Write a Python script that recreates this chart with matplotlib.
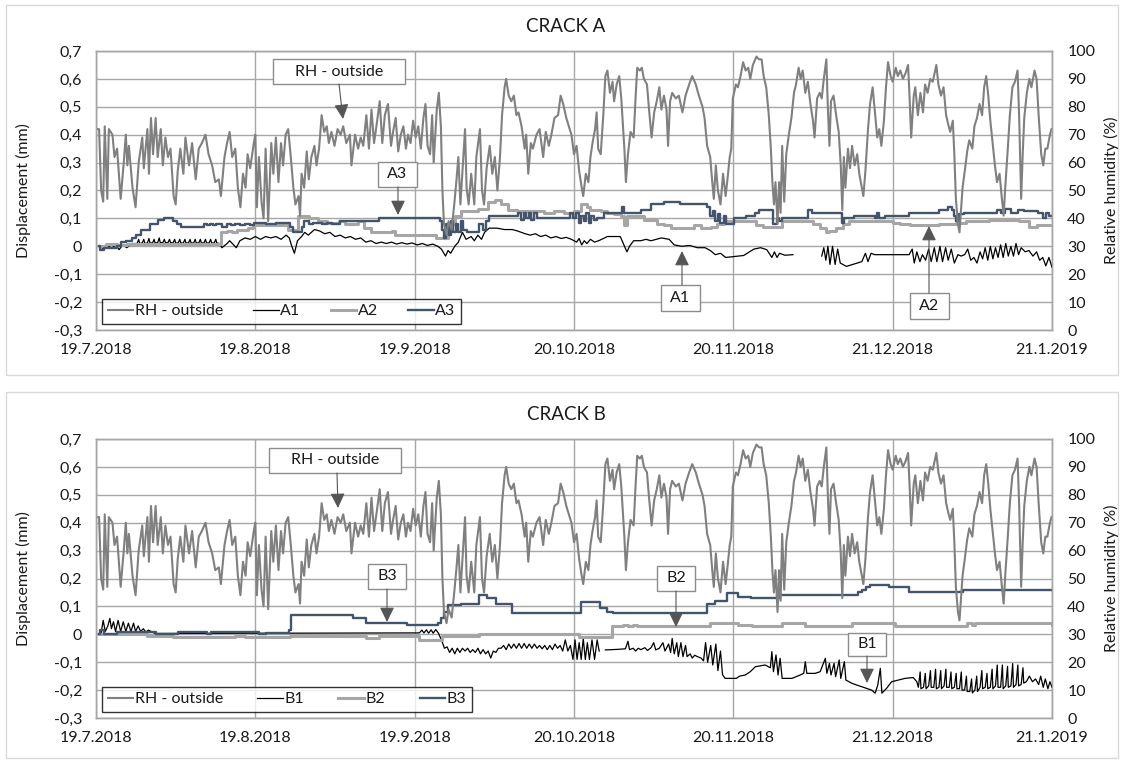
import numpy as np
import matplotlib
matplotlib.use('Agg')
import matplotlib.pyplot as plt
import matplotlib.dates as mdates
from matplotlib.patches import Rectangle, FancyArrowPatch
from matplotlib.lines import Line2D
import datetime as dt

plt.rcParams['font.family'] = ['Lato', 'DejaVu Sans']

# ---------------- data ----------------
START = dt.datetime(2018, 7, 19)
tick_dates = ['2018-07-19', '2018-08-19', '2018-09-19', '2018-10-20',
              '2018-11-20', '2018-12-21', '2019-01-21']
tick_labels = ['19.7.2018', '19.8.2018', '19.9.2018', '20.10.2018',
               '20.11.2018', '21.12.2018', '21.1.2019']
disp_ticks = [-0.3, -0.2, -0.1, 0.0, 0.1, 0.2, 0.3, 0.4, 0.5, 0.6, 0.7]
disp_labels = ['-0,3', '-0,2', '-0,1', '0', '0,1', '0,2', '0,3', '0,4', '0,5', '0,6', '0,7']
rh_ticks = [0, 10, 20, 30, 40, 50, 60, 70, 80, 90, 100]

# (day since 19.7.2018, RH %)
rh_outside = [
    (0.3, 72), (0.6, 72), (1.0, 50), (1.4, 46), (1.7, 73), (2.2, 47), (2.5, 72), (3.2, 70), (3.6, 62), (4.1, 65),
    (4.8, 47), (5.4, 60), (5.8, 70), (6.1, 59), (6.4, 66), (7.1, 51), (7.7, 44), (8.3, 60), (9.0, 69), (9.3, 58),
    (10.0, 72), (10.3, 56), (10.7, 76), (11.1, 63), (11.6, 76), (12.0, 62), (12.6, 72), (13.0, 59), (13.5, 69),
    (14.0, 62), (14.5, 65), (15.1, 48), (15.5, 45), (15.9, 57), (16.4, 65), (17.0, 56), (17.4, 69), (18.1, 59),
    (18.7, 67), (19.4, 54), (20.0, 65), (20.6, 67), (21.3, 70), (21.9, 63), (22.6, 59), (23.2, 53), (23.9, 54),
    (24.3, 48), (25.0, 62), (25.5, 67), (26.0, 71), (26.5, 62), (27.1, 65), (27.6, 51), (28.1, 44), (28.6, 56),
    (29.1, 51), (29.5, 63), (30.0, 58), (30.7, 67),
    (31.0, 70), (31.3, 44), (31.7, 62), (32.2, 46), (32.6, 40), (33.0, 65), (33.5, 39), (34.1, 67), (34.5, 56),
    (35.0, 69), (35.5, 53), (36.0, 67), (36.4, 59), (36.9, 70), (37.4, 72), (37.9, 62), (38.4, 51), (38.8, 45),
    (39.4, 48), (39.7, 41), (40.0, 56), (40.5, 51), (41.0, 64), (41.4, 54), (41.9, 62), (42.5, 66), (42.9, 59),
    (43.4, 65), (43.9, 77), (44.4, 71), (44.9, 73), (45.3, 67), (45.8, 71), (46.4, 66), (47.0, 72), (47.6, 70),
    (48.1, 73), (48.7, 67), (49.4, 70), (49.7, 59), (50.4, 70), (51.0, 65), (51.5, 69), (52.0, 66), (52.6, 77),
    (53.1, 65), (53.6, 79), (54.1, 67), (54.7, 75), (55.2, 82), (55.7, 67), (56.2, 77), (56.8, 81), (57.4, 66),
    (57.8, 71), (58.3, 76), (58.8, 64), (59.3, 70), (59.8, 73), (60.3, 65), (60.7, 70), (61.2, 67), (61.7, 75),
    (62.2, 69), (62.7, 73), (63.2, 65), (63.7, 76), (64.1, 81), (64.5, 66), (65.0, 63), (65.4, 77), (65.7, 60),
    (66.3, 79), (66.7, 85), (67.1, 73), (67.4, 50), (67.7, 38), (68.2, 34), (68.6, 39), (69.2, 36), (69.7, 45),
    (70.1, 53), (70.5, 62), (70.9, 45), (71.2, 54), (71.8, 72), (72.1, 51), (72.5, 45), (73.0, 56), (73.6, 45),
    (74.0, 62), (74.7, 72), (75.1, 50), (75.5, 45), (76.0, 58), (76.6, 66), (77.1, 56), (77.6, 62), (78.1, 50),
    (78.6, 62), (79.0, 77), (79.5, 87), (79.8, 90), (80.3, 84), (80.8, 82), (81.3, 84), (81.8, 77), (82.2, 78),
    (82.8, 73), (83.4, 65), (83.7, 70), (84.1, 56), (84.6, 67), (85.0, 65), (85.7, 70), (86.3, 72), (87.0, 62),
    (87.5, 71), (88.1, 66), (88.6, 70), (89.2, 76), (89.9, 77), (90.4, 84), (90.9, 81), (91.5, 76), (92.0, 73),
    (92.5, 70), (93.0, 63),
    (93.5, 66), (94.0, 57), (94.5, 51), (94.8, 48), (95.3, 56), (95.8, 53), (96.2, 62), (96.6, 67), (97.1, 72),
    (97.4, 78), (97.7, 65), (98.2, 63), (98.7, 77), (99.1, 91), (99.5, 93), (100.0, 85), (100.5, 89), (100.8, 82),
    (101.3, 88), (101.8, 91), (102.2, 83), (102.8, 65), (103.1, 53), (103.5, 63), (104.0, 71), (104.6, 69),
    (105.0, 84), (105.3, 94), (105.8, 93), (106.2, 94), (106.6, 90), (107.2, 88), (107.6, 79), (108.1, 69),
    (108.6, 78), (109.1, 82), (109.6, 87), (110.0, 79), (110.5, 84), (111.0, 79), (111.3, 66), (111.7, 82),
    (112.1, 85), (112.8, 83), (113.4, 84), (114.1, 78), (114.7, 84), (115.4, 88), (116.0, 91), (116.7, 88),
    (117.3, 84), (118.0, 80), (118.4, 76), (118.9, 66), (119.5, 62), (119.9, 53), (120.2, 47), (120.6, 59),
    (121.0, 50), (121.5, 45), (122.0, 56), (122.5, 48), (122.8, 53), (123.3, 62), (123.6, 65), (123.9, 83),
    (124.5, 88), (124.9, 87), (125.4, 91), (125.9, 96), (126.4, 93), (126.9, 94), (127.3, 90), (127.8, 95),
    (128.5, 98), (129.0, 97), (129.5, 97), (129.9, 91), (130.4, 87), (130.9, 77), (131.3, 65), (131.6, 53),
    (131.9, 45), (132.2, 53), (132.6, 38), (132.9, 53), (133.2, 42), (133.5, 66), (133.9, 46), (134.3, 63),
    (134.8, 70), (135.3, 76), (135.8, 85), (136.2, 88), (136.7, 94), (137.1, 90), (137.5, 93), (138.0, 85),
    (138.5, 89), (139.0, 81), (139.5, 75), (139.8, 69), (140.3, 83), (140.8, 85), (141.2, 83), (141.6, 90),
    (142.1, 97), (142.4, 79), (142.7, 66), (143.0, 82), (143.5, 84), (144.0, 77), (144.5, 71), (144.9, 59),
    (145.2, 43), (145.5, 62), (145.8, 51), (146.3, 65), (146.7, 58), (147.1, 66), (147.6, 59), (148.1, 63),
    (148.5, 56), (149.0, 51), (149.3, 48), (149.7, 57), (150.2, 72), (150.6, 81), (151.1, 87), (151.6, 77),
    (152.0, 69), (152.4, 72), (152.8, 66), (153.3, 75), (153.7, 87), (154.1, 96), (154.6, 91), (155.0, 89),
    (155.6, 94), (156.0, 91), (156.5, 93), (157.0, 90), (157.5, 92), (158.0, 95), (158.3, 83), (158.6, 69),
    (159.1, 84), (159.4, 87), (159.9, 77), (160.4, 85), (160.9, 78), (161.3, 88), (161.8, 85), (162.3, 90),
    (162.8, 89), (163.5, 95), (163.9, 88), (164.4, 84), (164.9, 87), (165.4, 77), (165.9, 73), (166.2, 71),
    (166.7, 75), (167.0, 63), (167.3, 47), (167.7, 38), (168.0, 35), (168.3, 43), (168.6, 51), (169.1, 58),
    (169.5, 64), (169.9, 68), (170.5, 65), (170.9, 73), (171.4, 76), (171.9, 81), (172.4, 77), (172.8, 87),
    (173.2, 91), (173.6, 84), (174.0, 75), (174.5, 66), (174.9, 59), (175.3, 53), (175.8, 56), (176.2, 48),
    (176.6, 41), (176.9, 51), (177.4, 65), (177.8, 77), (178.3, 87), (178.8, 89), (179.3, 93), (179.6, 77),
    (180.0, 47), (180.3, 63), (180.6, 76), (181.1, 85), (181.6, 90), (182.0, 87), (182.6, 93), (183.0, 90),
    (183.4, 77), (183.9, 63), (184.3, 59), (184.7, 65), (185.1, 65), (185.6, 70), (185.9, 72),
]

# crack A displacement (mm); A2, A3 are step series (value holds until next point)
a1 = [
    (0.8, 0.0), (1.5, -0.01), (2.2, 0.005), (3.0, -0.008), (3.8, 0.005), (4.5, -0.012), (5.2, 0.005), (6.0, -0.005),
    (7.0, 0.01), (8.0, 0.01), (8.3, 0.025), (8.5, 0.01), (9.0, 0.012), (9.3, 0.025), (9.5, 0.01), (10.0, 0.012),
    (10.3, 0.028), (10.5, 0.012), (11.0, 0.012), (11.3, 0.025), (11.5, 0.012), (12.0, 0.013), (12.3, 0.03),
    (12.5, 0.013), (13.0, 0.013), (13.3, 0.025), (13.5, 0.013), (14.0, 0.013), (14.3, 0.025), (14.5, 0.013),
    (15.0, 0.012), (15.3, 0.025), (15.5, 0.012), (16.0, 0.012), (16.3, 0.025), (16.5, 0.012), (17.0, 0.012),
    (17.3, 0.025), (17.5, 0.012), (18.0, 0.012), (18.3, 0.025), (18.5, 0.012), (19.0, 0.012), (19.3, 0.025),
    (19.5, 0.012), (20.0, 0.012), (20.3, 0.025), (20.5, 0.012), (21.0, 0.012), (21.3, 0.025), (21.5, 0.012),
    (22.0, 0.012), (22.3, 0.025), (22.5, 0.012), (23.0, 0.012), (23.3, 0.025), (23.5, 0.012), (24.0, 0.01),
    (24.5, -0.005), (25.5, 0.01), (26.0, 0.02), (27.3, -0.005), (28.0, 0.02), (29.0, 0.03), (30.0, 0.025),
    (31.0, 0.035), (32.0, 0.025), (33.0, 0.035), (34.0, 0.03), (35.0, 0.035), (36.0, 0.025), (37.0, 0.04),
    (37.6, 0.03), (38.0, 0.005), (38.6, -0.025), (39.2, 0.02), (40.0, 0.035), (40.6, 0.05), (41.3, 0.04),
    (42.5, 0.06), (43.5, 0.055), (44.5, 0.045), (45.5, 0.05), (46.5, 0.035), (47.5, 0.04), (48.5, 0.03),
    (49.5, 0.035), (50.5, 0.025), (51.5, 0.03), (52.5, 0.015), (53.5, 0.02), (54.5, 0.01), (55.5, 0.015),
    (56.5, 0.01), (57.5, 0.015), (58.5, 0.008), (59.5, 0.013), (60.5, 0.008), (61.5, 0.012), (62.5, 0.005),
    (63.5, 0.01), (64.5, 0.003), (65.5, 0.008), (66.5, 0.0), (67.2, -0.01), (68.0, -0.035), (68.5, -0.015),
    (69.0, -0.025), (69.8, 0.0), (70.5, 0.015), (71.3, 0.05), (72.0, 0.025), (73.0, 0.035), (73.6, 0.02),
    (74.3, 0.04), (75.0, 0.025), (75.6, 0.05), (76.5, 0.065), (78.0, 0.065), (79.5, 0.06), (81.0, 0.06),
    (82.0, 0.055), (83.5, 0.045), (84.5, 0.04), (85.5, 0.045), (86.5, 0.035), (87.5, 0.04), (88.5, 0.03),
    (89.5, 0.035), (90.5, 0.028), (91.5, 0.032), (92.5, 0.025), (93.5, 0.015), (94.0, 0.028), (94.5, 0.005),
    (95.0, 0.02), (95.5, 0.01), (96.2, 0.025), (97.0, 0.015), (97.8, 0.02), (99.5, 0.035), (102.0, 0.035),
    (102.6, 0.01), (103.3, -0.02), (103.8, 0.0), (104.6, 0.02), (106.0, 0.02), (107.0, 0.025), (108.0, 0.02),
    (110.0, 0.03), (111.5, 0.025), (112.5, 0.005), (114.0, 0.0), (115.5, 0.003), (117.0, -0.005), (118.5, -0.005),
    (119.5, -0.015), (120.5, -0.03), (121.5, -0.025), (122.5, -0.04), (124.0, -0.037), (126.0, -0.033),
    (128.0, -0.01), (129.3, -0.005), (130.5, -0.012), (131.5, -0.04), (132.0, -0.02), (132.5, -0.04),
    (133.0, -0.025), (134.0, -0.032), (135.6, -0.03), (136.0, np.nan),
    (141.2, -0.035), (141.6, -0.005), (142.0, -0.05), (142.4, 0.0), (142.8, -0.065), (143.3, 0.0), (143.8, -0.065),
    (144.3, -0.01), (144.8, -0.06), (146.0, -0.072), (149.0, -0.055), (149.7, -0.025), (150.2, -0.055),
    (150.8, -0.025), (151.5, -0.03), (155.0, -0.03), (158.2, -0.03), (158.8, -0.01), (159.2, -0.06), (159.7, -0.02),
    (160.3, -0.055), (160.8, -0.03), (161.4, -0.05), (162.0, -0.01), (162.5, -0.055), (163.1, -0.005),
    (163.6, -0.055), (164.2, 0.0), (164.7, -0.055), (165.3, -0.005), (165.8, -0.05), (166.4, -0.01), (167.0, -0.06),
    (167.7, -0.03), (168.3, -0.035), (169.0, -0.03), (169.6, -0.01), (170.2, -0.05), (170.8, -0.04), (171.4, -0.06),
    (172.0, -0.02), (172.5, -0.045), (173.0, -0.005), (173.5, -0.05), (174.0, 0.0), (174.5, -0.045), (175.0, -0.005),
    (175.5, -0.04), (176.0, 0.005), (176.5, -0.04), (177.0, 0.01), (177.5, -0.035), (178.0, 0.0), (178.5, -0.035),
    (179.0, 0.01), (179.5, -0.03), (180.0, -0.005), (180.8, -0.02), (181.5, -0.015), (182.3, -0.035), (183.0, -0.02),
    (183.6, -0.05), (184.2, -0.04), (184.8, -0.07), (185.4, -0.04), (186.0, -0.075),
]

a2 = [
    (0.7, 0.0), (2.0, 0.01), (4.0, 0.005), (6.0, 0.01), (8.0, 0.008), (10.0, 0.01), (24.0, 0.01), (24.4, 0.05),
    (25.5, 0.055), (26.5, 0.05), (27.5, 0.06), (29.5, 0.065), (30.5, 0.075), (37.4, 0.06), (39.3, 0.11),
    (41.5, 0.10), (43.2, 0.09), (45.0, 0.085), (47.2, 0.09), (48.5, 0.08), (51.0, 0.09), (52.2, 0.065),
    (53.5, 0.05), (57.5, 0.055), (58.2, 0.04), (66.2, 0.03), (68.5, 0.08), (69.8, 0.11), (71.0, 0.125),
    (74.3, 0.135), (76.3, 0.16), (77.6, 0.165), (78.8, 0.15), (80.2, 0.13), (82.0, 0.125), (87.2, 0.12),
    (89.2, 0.125), (91.0, 0.12), (93.0, 0.125), (94.3, 0.15), (95.5, 0.14), (96.2, 0.13), (98.2, 0.125),
    (99.5, 0.12), (100.8, 0.115), (102.2, 0.11), (102.8, 0.075), (103.3, 0.11), (106.6, 0.095), (109.2, 0.08),
    (110.5, 0.077), (111.8, 0.065), (116.3, 0.075), (117.7, 0.065), (119.6, 0.07), (120.8, 0.08), (122.2, 0.09),
    (128.5, 0.078), (129.8, 0.07), (133.5, 0.09), (139.5, 0.08), (140.8, 0.065), (142.0, 0.05), (142.7, 0.055),
    (144.0, 0.065), (145.3, 0.08), (146.6, 0.09), (155.0, 0.085), (156.5, 0.08), (158.3, 0.075), (164.0, 0.08),
    (167.3, 0.085), (169.3, 0.09), (173.8, 0.095), (179.6, 0.09), (181.5, 0.07), (183.0, 0.075), (186.0, 0.075),
]

a3 = [
    (0.6, 0.0), (0.8, -0.015), (1.6, -0.005), (4.0, 0.0), (4.8, 0.015), (5.8, 0.02), (7.0, 0.03), (7.8, 0.04),
    (8.8, 0.06), (10.5, 0.08), (12.0, 0.095), (13.2, 0.10), (15.0, 0.09), (15.8, 0.08), (16.5, 0.07), (21.0, 0.08),
    (21.6, 0.075), (22.2, 0.08), (22.8, 0.075), (23.4, 0.08), (24.5, 0.07), (25.4, 0.08), (26.3, 0.075),
    (27.0, 0.08), (28.0, 0.075), (29.0, 0.08), (30.0, 0.075), (30.8, 0.085), (33.0, 0.08), (35.0, 0.085),
    (37.8, 0.07), (38.3, 0.05), (40.0, 0.07), (40.4, 0.09), (41.5, 0.08), (42.2, 0.085), (44.0, 0.08),
    (45.0, 0.085), (46.0, 0.08), (47.5, 0.09), (55.0, 0.10), (66.9, 0.09), (67.3, 0.06), (67.7, 0.03),
    (68.1, 0.08), (68.6, 0.04), (69.0, 0.09), (69.5, 0.05), (70.0, 0.08), (70.5, 0.05), (71.0, 0.09), (71.5, 0.06),
    (72.2, 0.05), (74.6, 0.08), (75.2, 0.06), (75.8, 0.09), (76.4, 0.11), (82.2, 0.12), (82.7, 0.095),
    (83.2, 0.12), (83.7, 0.10), (84.2, 0.12), (84.7, 0.095), (85.2, 0.12), (85.8, 0.10), (92.3, 0.12),
    (92.8, 0.10), (93.4, 0.12), (93.9, 0.085), (94.4, 0.11), (94.9, 0.09), (95.4, 0.12), (95.9, 0.085),
    (96.4, 0.11), (96.9, 0.095), (97.4, 0.10), (98.8, 0.12), (102.4, 0.14), (102.8, 0.12), (106.0, 0.13),
    (108.0, 0.15), (110.5, 0.16), (113.6, 0.15), (118.8, 0.14), (119.5, 0.11), (120.0, 0.125), (120.5, 0.09),
    (121.0, 0.115), (121.5, 0.085), (122.1, 0.11), (122.6, 0.08), (124.2, 0.10), (126.5, 0.11), (128.3, 0.12),
    (129.0, 0.13), (131.8, 0.08), (132.4, 0.10), (132.9, 0.09), (133.4, 0.10), (138.5, 0.13), (139.3, 0.12),
    (145.1, 0.085), (145.6, 0.10), (147.5, 0.11), (151.5, 0.10), (152.0, 0.12), (152.4, 0.10), (153.5, 0.11),
    (158.2, 0.12), (164.0, 0.13), (165.8, 0.14), (166.5, 0.13), (167.0, 0.11), (167.4, 0.09), (167.9, 0.115),
    (168.8, 0.12), (175.3, 0.13), (176.0, 0.12), (176.8, 0.135), (178.0, 0.12), (179.3, 0.13), (180.5, 0.125),
    (183.3, 0.12), (184.2, 0.10), (184.8, 0.12), (185.5, 0.11), (186.0, 0.11),
]

# crack B displacement (mm)
b1 = [
    (0.5, 0.0), (1.0, 0.005), (1.4, 0.05), (1.8, 0.01), (2.3, 0.03), (2.7, 0.057), (3.0, 0.02), (3.4, 0.045),
    (3.8, 0.01), (4.3, 0.05), (4.8, 0.01), (5.3, 0.045), (5.8, 0.01), (6.3, 0.04), (6.8, 0.01), (7.3, 0.04),
    (7.7, 0.01), (8.2, 0.03), (8.7, 0.01), (9.2, 0.02), (9.7, 0.008), (10.2, 0.015), (11.5, 0.003), (62.9, 0.005),
    (63.4, 0.015), (63.8, 0.005), (64.3, 0.016), (64.7, 0.004), (65.2, 0.016), (65.6, 0.004), (66.1, 0.017),
    (66.6, 0.005), (67.2, -0.02), (67.8, -0.05), (68.3, -0.045), (68.8, -0.065), (69.3, -0.05), (69.8, -0.07),
    (70.3, -0.05), (70.8, -0.065), (71.3, -0.05), (71.8, -0.06), (72.3, -0.05), (72.8, -0.065), (73.3, -0.055),
    (73.8, -0.065), (74.3, -0.05), (74.8, -0.07), (75.3, -0.055), (75.8, -0.07), (76.3, -0.06), (76.8, -0.085),
    (77.3, -0.06), (77.8, -0.065), (78.3, -0.05), (78.8, -0.05), (79.3, -0.04), (79.8, -0.055), (80.3, -0.035),
    (80.8, -0.05), (81.3, -0.035), (81.8, -0.05), (82.3, -0.033), (82.8, -0.05), (83.3, -0.033), (83.8, -0.05),
    (84.3, -0.035), (84.8, -0.05), (85.3, -0.035), (85.8, -0.05), (86.3, -0.04), (86.8, -0.052), (87.3, -0.04),
    (87.8, -0.055), (88.3, -0.04), (88.8, -0.055), (89.3, -0.035), (89.8, -0.05), (90.3, -0.04), (90.8, -0.06),
    (91.3, -0.02), (91.8, -0.06), (92.3, -0.04), (92.8, -0.09), (93.2, -0.02), (93.6, -0.09), (94.0, -0.03),
    (94.4, -0.09), (94.8, -0.015), (95.2, -0.09), (95.6, -0.03), (96.0, -0.09), (96.5, -0.02), (97.0, -0.09),
    (97.5, -0.02), (97.9, -0.06), (98.5, np.nan), (99.1, -0.056), (101.5, -0.054), (103.0, -0.052),
    (103.5, -0.025), (103.8, -0.055), (104.5, -0.05), (105.0, -0.06), (105.5, -0.05), (106.0, -0.055),
    (106.8, -0.048), (107.3, -0.058), (108.0, -0.048), (108.5, -0.03), (108.9, -0.056), (109.6, -0.05),
    (110.3, -0.03), (110.7, -0.06), (111.4, -0.035), (111.8, -0.065), (112.1, -0.015), (112.5, -0.07),
    (113.0, -0.03), (113.3, -0.08), (113.8, -0.03), (114.2, -0.08), (114.7, -0.04), (115.0, -0.08),
    (115.6, -0.07), (116.0, -0.085), (116.5, -0.075), (117.0, -0.08), (117.7, -0.085), (118.2, -0.095),
    (118.6, -0.03), (119.0, -0.10), (119.6, -0.04), (120.0, -0.11), (120.6, -0.035), (121.0, -0.13),
    (121.5, -0.06), (121.9, -0.145), (122.4, -0.158), (124.6, -0.158), (125.2, -0.15), (126.3, -0.146),
    (127.3, -0.134), (128.3, -0.116), (130.2, -0.11), (131.2, -0.12), (131.5, -0.062), (131.8, -0.134),
    (132.3, -0.074), (132.7, -0.146), (133.1, -0.086), (133.5, -0.158), (135.4, -0.158), (137.0, -0.146),
    (137.7, -0.14), (138.0, -0.098), (138.3, -0.14), (139.9, -0.14), (140.9, -0.134), (141.9, -0.086),
    (142.2, -0.14), (142.7, -0.104), (143.0, -0.146), (143.6, -0.104), (143.9, -0.152), (144.6, -0.092),
    (144.9, -0.158), (145.6, -0.098), (145.9, -0.164), (147.1, -0.176), (149.0, -0.188), (150.9, -0.20),
    (151.6, -0.211), (152.1, -0.182), (152.6, -0.122), (152.9, -0.211), (153.8, -0.194), (154.8, -0.17),
    (156.1, -0.164), (157.4, -0.158), (159.0, -0.155), (159.7, -0.17),
    (160.0, -0.19), (160.35, -0.135), (160.5, -0.195), (161.0, -0.19), (161.35, -0.14), (161.5, -0.195),
    (162.0, -0.185), (162.35, -0.13), (162.5, -0.19), (163.0, -0.19), (163.35, -0.125), (163.5, -0.195),
    (164.0, -0.19), (164.35, -0.13), (164.5, -0.195), (165.0, -0.185), (165.35, -0.125), (165.5, -0.19),
    (166.0, -0.19), (166.35, -0.135), (166.5, -0.195), (167.0, -0.19), (167.35, -0.14), (167.5, -0.195),
    (168.0, -0.195), (168.35, -0.135), (168.5, -0.20), (169.0, -0.20), (169.35, -0.15), (169.5, -0.205),
    (170.0, -0.205), (170.35, -0.16), (170.5, -0.21), (171.0, -0.20), (171.35, -0.15), (171.5, -0.205),
    (172.0, -0.19), (172.35, -0.13), (172.5, -0.195), (173.0, -0.19), (173.35, -0.14), (173.5, -0.195),
    (174.0, -0.19), (174.35, -0.125), (174.5, -0.195), (175.0, -0.185), (175.35, -0.11), (175.5, -0.19),
    (176.0, -0.19), (176.35, -0.11), (176.5, -0.195), (177.0, -0.185), (177.35, -0.115), (177.5, -0.19),
    (178.0, -0.185), (178.35, -0.105), (178.5, -0.19), (179.0, -0.18), (179.35, -0.11), (179.5, -0.185),
    (180.0, -0.18), (180.35, -0.12), (180.5, -0.175), (181.0, -0.17), (181.6, -0.15), (182.2, -0.17),
    (182.8, -0.16), (183.4, -0.18), (183.8, -0.15), (184.3, -0.19), (184.7, -0.16), (185.2, -0.195),
    (185.6, -0.17), (186.0, -0.19),
]

b2 = [
    (0.5, 0.0), (10.0, -0.005), (15.0, -0.01), (27.0, -0.005), (29.0, -0.01), (37.7, -0.005), (52.5, -0.012),
    (55.0, -0.005), (62.8, -0.02), (67.4, -0.005), (74.5, 0.0), (94.0, -0.01), (100.3, 0.03), (102.5, 0.035),
    (103.5, 0.03), (104.5, 0.035), (105.2, 0.03), (119.5, 0.04), (125.0, 0.035), (127.6, 0.03), (133.5, 0.04),
    (137.9, 0.03), (147.0, 0.04), (155.5, 0.03), (169.5, 0.04), (170.5, 0.035), (171.0, 0.04), (186.0, 0.035),
]

b3 = [
    (0.5, 0.0), (0.8, 0.015), (1.5, 0.0), (4.0, 0.007), (11.6, 0.0), (16.0, 0.01), (21.5, 0.0), (22.4, 0.01),
    (31.8, 0.0), (33.0, 0.005), (37.5, 0.015), (37.9, 0.07), (50.0, 0.06), (52.5, 0.04), (60.5, 0.035),
    (66.5, 0.04), (67.2, 0.06), (67.8, 0.08), (68.4, 0.105), (71.0, 0.11), (74.5, 0.14), (76.0, 0.13),
    (77.8, 0.11), (81.0, 0.078), (94.3, 0.117), (98.0, 0.093), (99.5, 0.08), (100.5, 0.075), (103.5, 0.078),
    (118.9, 0.11), (120.5, 0.12), (122.8, 0.147), (125.0, 0.135), (127.5, 0.13), (133.0, 0.14), (148.3, 0.15),
    (149.0, 0.16), (149.8, 0.17), (150.6, 0.177), (154.2, 0.17), (158.1, 0.15), (168.7, 0.16), (186.0, 0.16),
]

# ---------------- styles ----------------
C_RH = '#808080'
C_1 = '#000000'
C_2 = '#a6a6a6'
C_3 = '#44546a'
C_GRID = '#a6a6a6'
C_TXT = '#1a1a1a'
FS = 11.5
W, H = 1122, 762
t0 = mdates.date2num(START)


def unzip(pts):
    d = np.array([p[0] for p in pts], dtype=float)
    v = np.array([p[1] for p in pts], dtype=float)
    return t0 + d, v


fig = plt.figure(figsize=(W / 100, H / 100), dpi=100)


def fx(px):
    return px / W


def fy(py):
    return 1 - py / H


def panel(top_px, title, s1, s2, s3, names, notes, leg_right):
    left_px, right_px, bot_px = 96, 1052, top_px + 279
    ax = fig.add_axes([fx(left_px), fy(bot_px), (right_px - left_px) / W, 279 / H])
    ax2 = ax.twinx()
    ax.set_zorder(1)
    ax2.set_zorder(2)
    ax2.patch.set_visible(False)

    x1, y1 = unzip(s1)
    x2, y2 = unzip(s2)
    x3, y3 = unzip(s3)
    ax.plot(x1, y1, color=C_1, lw=0.9, zorder=3)
    ax.plot(x2, y2, color=C_2, lw=2.2, drawstyle='steps-post', zorder=4)
    ax.plot(x3, y3, color=C_3, lw=1.7, drawstyle='steps-post', zorder=5)
    xr, yr = unzip(rh_outside)
    ax2.plot(xr, yr, color=C_RH, lw=1.5, zorder=2)

    ax.set_ylim(-0.3, 0.7)
    ax2.set_ylim(0, 100)
    ax.set_xlim(t0, t0 + 186)
    ax.set_yticks(disp_ticks)
    ax.set_yticklabels(disp_labels)
    ax2.set_yticks(rh_ticks)
    ax2.set_yticklabels([str(v) for v in rh_ticks])
    ticks = [mdates.date2num(dt.datetime.strptime(s, '%Y-%m-%d')) for s in tick_dates]
    ax.set_xticks(ticks)
    ax.set_xticklabels(tick_labels)
    ax.grid(True, color=C_GRID, lw=1.0)
    ax.set_axisbelow(True)
    ax.tick_params(axis='both', length=0, labelsize=FS, colors=C_TXT)
    ax.tick_params(axis='y', pad=10)
    ax.tick_params(axis='x', pad=9)
    ax2.tick_params(axis='y', length=0, labelsize=FS, colors=C_TXT, pad=11)
    for a in (ax, ax2):
        for sp in a.spines.values():
            sp.set_color(C_GRID)
            sp.set_linewidth(1.0)
    ax.set_ylabel('Displacement (mm)', fontsize=FS, color=C_TXT)
    ax.yaxis.set_label_coords((31 - left_px) / 956, 0.5)
    ax2.set_ylabel('Relative humidity (%)', fontsize=FS, color=C_TXT)
    ax2.yaxis.set_label_coords((1104 - left_px) / 956, 0.5)

    fig.text(fx(566), fy(top_px - 24), title, ha='center', va='center', fontsize=13.5, color=C_TXT)

    handles = [Line2D([], [], color=C_RH, lw=1.5), Line2D([], [], color=C_1, lw=0.9),
               Line2D([], [], color=C_2, lw=2.2), Line2D([], [], color=C_3, lw=1.7)]
    lg_x0 = 102
    leg = ax2.legend(handles, names, ncol=4, mode='expand', loc='lower left',
                     bbox_to_anchor=((lg_x0 - left_px) / 956, 6 / 279, (leg_right - lg_x0) / 956, 0.1),
                     borderaxespad=0, fontsize=FS, frameon=True, fancybox=False,
                     handlelength=1.6, handletextpad=0.1, borderpad=0.35, labelcolor=C_TXT)
    leg.get_frame().set_edgecolor('black')
    leg.get_frame().set_linewidth(1.0)

    for (txt, bx0, bx1, by0, by1, ax_x, ax_y, tip_x, tip_y) in notes:
        rect = Rectangle((fx(bx0), fy(by1)), (bx1 - bx0) / W, (by1 - by0) / H, transform=fig.transFigure,
                         facecolor='white', edgecolor='#8c8c8c', lw=1.0, zorder=10)
        fig.add_artist(rect)
        fig.text(fx((bx0 + bx1) / 2), fy((by0 + by1) / 2), txt, ha='center', va='center',
                 fontsize=FS, color=C_TXT, zorder=11)
        arr = FancyArrowPatch((fx(ax_x), fy(ax_y)), (fx(tip_x), fy(tip_y)), transform=fig.transFigure,
                              arrowstyle='-|>,head_length=0.45,head_width=0.22', mutation_scale=20,
                              color='#555555', lw=0.8, shrinkA=0, shrinkB=0, zorder=10)
        fig.add_artist(arr)
    return ax, ax2


# panel frames
for (y0, y1) in [(5, 375), (392, 758)]:
    fig.add_artist(Rectangle((fx(6), fy(y1)), 1112 / W, (y1 - y0) / H, transform=fig.transFigure,
                             facecolor='none', edgecolor='#d9d9d9', lw=1.0, zorder=0))

notes_a = [
    ('RH - outside', 273, 405, 59, 84, 339, 84, 343, 119),
    ('A3', 378, 417, 162, 187, 398, 187, 398, 215),
    ('A1', 661, 700, 285, 311, 682, 285, 682, 251),
    ('A2', 910, 949, 293, 319, 929, 293, 929, 226),
]
notes_b = [
    ('RH - outside', 269, 401, 448, 473, 337, 473, 338, 508),
    ('B3', 368, 406, 564, 589, 387, 589, 387, 622),
    ('B2', 657, 695, 566, 591, 676, 591, 676, 627),
    ('B1', 848, 886, 633, 656, 867, 656, 867, 683),
]

panel(51, 'CRACK A', a1, a2, a3, ['RH - outside', 'A1', 'A2', 'A3'], notes_a, 461)
panel(439, 'CRACK B', b1, b2, b3, ['RH - outside', 'B1', 'B2', 'B3'], notes_b, 472)

fig.savefig('out.png', dpi=100)
